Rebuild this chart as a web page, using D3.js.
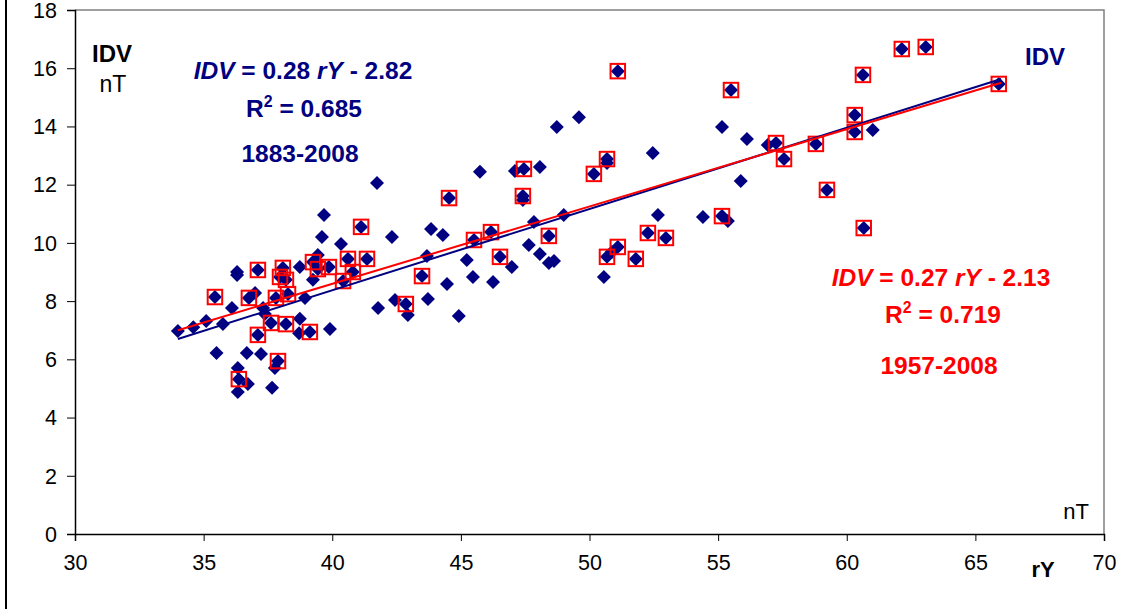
<!DOCTYPE html>
<html><head><meta charset="utf-8">
<script src="https://cdn.jsdelivr.net/npm/d3@7"></script>
<style>
html,body{margin:0;padding:0;background:#fff;}
svg{display:block;font-family:"Liberation Sans",Arial,sans-serif;}
</style></head>
<body>
<svg id="chart" width="1134" height="609"></svg>
<script>
// ---- data: years 1883-1956 only (navy diamonds without squares) ----
const earlyRY  = [34.0,34.6,35.1,35.75,35.5,36.1,36.3,36.3,36.33,36.33,36.72,36.68,37.0,37.23,37.31,37.38,37.66,37.77,38.74,38.94,38.74,38.71,39.25,39.44,39.6,39.68,39.91,40.34,41.74,41.78,42.32,42.44,42.94,43.68,43.72,43.84,44.3,44.46,44.92,45.23,45.47,45.74,46.25,46.98,47.1,47.64,47.84,48.07,48.07,48.42,48.62,48.73,49.0,49.59,50.56,50.68,50.87,47.41,52.46,52.66,54.41,55.15,55.38,55.88,56.12,56.93,61.01];
const earlyIDV = [6.97,7.1,7.32,7.21,6.22,7.76,9.0,8.9,5.7,4.88,5.15,6.22,8.28,6.18,7.76,7.56,5.02,5.7,9.17,8.11,7.39,6.9,8.73,9.58,10.2,10.96,7.04,9.96,12.06,7.76,10.2,8.04,7.52,9.55,8.07,10.48,10.27,8.59,7.49,9.41,8.83,12.44,8.66,9.17,12.47,9.93,10.72,12.61,9.62,9.31,9.38,13.98,10.96,14.32,8.83,12.74,9.69,11.47,13.09,10.96,10.89,13.98,10.75,12.13,13.57,13.36,13.88];
// ---- data: years 1957-2008 (navy diamonds with red squares) ----
const recentRY  = [35.44,36.37,36.76,37.11,37.11,37.62,37.81,37.89,37.97,38.08,38.2,38.2,38.28,39.13,39.25,39.44,39.87,40.42,40.61,40.8,41.12,41.35,42.86,43.49,44.54,45.51,46.17,46.52,47.41,47.45,48.42,50.17,50.68,50.68,51.1,51.1,51.8,52.27,52.97,55.15,55.5,57.25,57.56,58.8,59.23,60.31,60.31,60.63,60.66,62.14,63.07,65.91];
const recentIDV = [8.14,5.32,8.11,9.07,6.84,7.25,8.11,5.94,8.83,9.14,8.73,7.21,8.24,6.94,9.34,9.1,9.17,8.69,9.45,9.0,10.55,9.45,7.9,8.86,11.54,10.1,10.37,9.52,11.61,12.54,10.24,12.37,12.88,9.52,9.86,15.9,9.45,10.34,10.17,10.92,15.25,13.43,12.88,13.4,11.82,14.39,13.81,15.77,10.51,16.66,16.73,15.46];
// ---- trend lines (end points) ----
const trendX = [34, 66];
const trendAllIDV = [6.70, 15.63];
const trendRecentIDV = [7.0, 15.5];
// ---- axes ----
const xTicks = [30,35,40,45,50,55,60,65,70];
const yTicks = [0,2,4,6,8,10,12,14,16,18];

const NAVY = "#000080", RED = "#FF0000";
const svg = d3.select("#chart");
const x = d3.scaleLinear().domain([30,70]).range([75,1104]);
const y = d3.scaleLinear().domain([0,18]).range([534,10]);

// outer frame (left edge)
svg.append("line").attr("x1",6).attr("x2",6).attr("y1",0).attr("y2",609)
  .attr("stroke","#000").attr("stroke-width",2);

// plot border (top/right gray)
svg.append("path").attr("d",`M${x(30)},${y(18)}H${x(70)}V${y(0)}`)
  .attr("fill","none").attr("stroke","#808080").attr("stroke-width",1.5);

// axes
const xAxis = svg.append("g").attr("transform",`translate(0,${y(0)})`)
  .call(d3.axisBottom(x).tickValues(xTicks).tickSize(7).tickPadding(10).tickFormat(d3.format("d")));
const yAxis = svg.append("g").attr("transform",`translate(${x(30)},0)`)
  .call(d3.axisLeft(y).tickValues(yTicks).tickSize(8).tickPadding(10).tickFormat(d3.format("d")));
[xAxis,yAxis].forEach(g=>{
  g.select(".domain").attr("stroke","#000").attr("stroke-width",1.5);
  g.selectAll(".tick line").attr("stroke","#000").attr("stroke-width",1);
  g.selectAll("text").attr("font-size",21.5).attr("fill","#000")
    .attr("font-family","'Liberation Sans',Arial,sans-serif");
});
xAxis.selectAll("text").attr("dy","0.9em");
yAxis.selectAll("text").attr("dy","0.34em");

const early = earlyRY.map((v,i)=>({rY:v, idv:earlyIDV[i]}));
const recent = recentRY.map((v,i)=>({rY:v, idv:recentIDV[i]}));
const all = early.concat(recent);

// diamonds
const h = 7;
svg.append("g").selectAll("path").data(all).join("path")
  .attr("d",d=>{const cx=x(d.rY), cy=y(d.idv); return `M${cx},${cy-h}L${cx+h},${cy}L${cx},${cy+h}L${cx-h},${cy}Z`;})
  .attr("fill",NAVY);

// red open squares
const s = 14.5;
svg.append("g").selectAll("rect").data(recent).join("rect")
  .attr("x",d=>x(d.rY)-s/2).attr("y",d=>y(d.idv)-s/2)
  .attr("width",s).attr("height",s)
  .attr("fill","none").attr("stroke",RED).attr("stroke-width",2);

// trend lines
const line = d3.line().x(d=>x(d[0])).y(d=>y(d[1]));
svg.append("path").attr("d",line(trendX.map((v,i)=>[v,trendAllIDV[i]])))
  .attr("stroke",NAVY).attr("stroke-width",2).attr("fill","none");
svg.append("path").attr("d",line(trendX.map((v,i)=>[v,trendRecentIDV[i]])))
  .attr("stroke",RED).attr("stroke-width",2).attr("fill","none");

// text helper
function txt(xp, yp, color, size, weight, parts){
  const t = svg.append("text").attr("x",xp).attr("y",yp).attr("text-anchor","middle")
    .attr("fill",color).attr("font-size",size).attr("font-weight",weight);
  parts.forEach(p=>{
    const sp = t.append("tspan").text(p.t);
    if(p.i) sp.attr("font-style","italic");
    if(p.sup) sp.attr("font-size",size*0.65).attr("dy",-size*0.4);
    if(p.down) sp.attr("dy",size*0.4);
  });
  return t;
}
txt(112,62,"#000",24,"bold",[{t:"IDV"}]);
txt(113,92,"#000",23,"normal",[{t:"nT"}]);
txt(1045,65,NAVY,24,"bold",[{t:"IDV"}]);
txt(1076,519,"#000",22,"normal",[{t:"nT"}]);
txt(1043,577,"#000",22,"bold",[{t:"rY"}]);

txt(303,79,NAVY,24.5,"bold",[{t:"IDV",i:true},{t:"  = 0.28 "},{t:"rY",i:true},{t:" - 2.82"}]);
txt(304,117,NAVY,24.5,"bold",[{t:"R"},{t:"2",sup:true},{t:" = 0.685",down:true}]);
txt(300,162,NAVY,24.5,"bold",[{t:"1883-2008"}]);

txt(941,286,RED,24.5,"bold",[{t:"IDV",i:true},{t:"  = 0.27 "},{t:"rY",i:true},{t:" - 2.13"}]);
txt(943,323,RED,24.5,"bold",[{t:"R"},{t:"2",sup:true},{t:" = 0.719",down:true}]);
txt(939,374,RED,24.5,"bold",[{t:"1957-2008"}]);
</script>
</body></html>
